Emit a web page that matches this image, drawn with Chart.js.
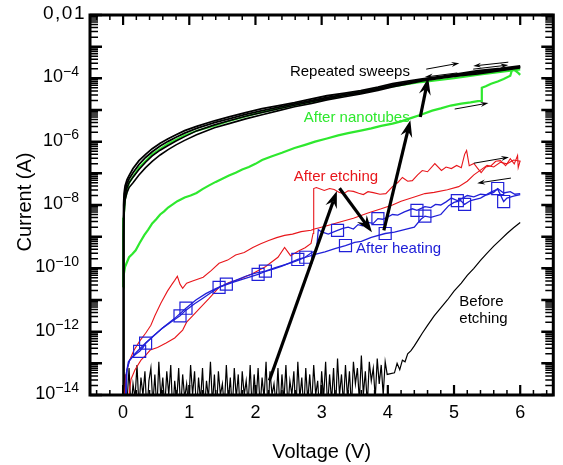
<!DOCTYPE html>
<html>
<head>
<meta charset="utf-8">
<script src="https://cdn.jsdelivr.net/npm/chart.js@4.4.0/dist/chart.umd.min.js"></script>
<style>
  body { margin: 0; background: #fff; }
  #wrap { width: 563px; height: 465px; }
</style>
</head>
<body>
<div id="wrap"><canvas id="c"></canvas></div>
<script>
// values are voltages (V) and log10 of current (A)
const xTicks = [0, 1, 2, 3, 4, 5, 6];
const xTickLabels = ["0", "1", "2", "3", "4", "5", "6"];
const yTickExp = [-14, -12, -10, -8, -6, -4, -2];
const yTickLabels = ["10^-14", "10^-12", "10^-10", "10^-8", "10^-6", "10^-4", "0,01"];

// repeated sweeps (black)
const sweepV = [0.00,0.005,0.01,0.015,0.03,0.06,0.09,0.15,0.24,0.34,0.44,0.56,0.68,0.80,0.93,1.11,1.38,1.60,1.85,2.10,2.35,2.59,2.85,3.08,3.35,3.59,3.85,4.07,4.30,4.52,4.86,5.10,5.36,5.70,6.00];
const sweep1 = [-14.5,-10.0,-8.0,-7.64,-7.4,-7.2,-7.07,-6.85,-6.6,-6.4,-6.22,-6.05,-5.91,-5.78,-5.65,-5.52,-5.34,-5.22,-5.08,-4.96,-4.86,-4.77,-4.65,-4.55,-4.47,-4.39,-4.28,-4.17,-4.09,-4.02,-3.92,-3.84,-3.76,-3.69,-3.61];
const sweep2 = [-14.5,-10.5,-8.5,-7.9,-7.55,-7.32,-7.18,-6.98,-6.72,-6.5,-6.32,-6.14,-5.99,-5.86,-5.73,-5.58,-5.40,-5.28,-5.14,-5.02,-4.91,-4.81,-4.70,-4.60,-4.51,-4.43,-4.32,-4.21,-4.13,-4.05,-3.95,-3.87,-3.80,-3.72,-3.63];
const sweep3 = [-14.5,-10.8,-8.7,-8.1,-7.7,-7.45,-7.3,-7.12,-6.88,-6.65,-6.45,-6.27,-6.12,-5.98,-5.84,-5.66,-5.47,-5.34,-5.20,-5.08,-4.96,-4.85,-4.74,-4.64,-4.54,-4.46,-4.35,-4.24,-4.15,-4.06,-3.96,-3.90,-3.83,-3.74,-3.65];
const sweep4 = [-14.5,-11.0,-9.0,-8.3,-7.85,-7.6,-7.45,-7.3,-7.05,-6.82,-6.62,-6.42,-6.25,-6.10,-5.96,-5.78,-5.56,-5.43,-5.28,-5.15,-5.02,-4.90,-4.79,-4.68,-4.58,-4.49,-4.38,-4.27,-4.18,-4.08,-3.98,-3.92,-3.86,-3.76,-3.67];

// after nanotubes (green)
const greenFwdV = [0.00,0.01,0.03,0.06,0.09,0.14,0.19,0.25,0.32,0.38,0.44,0.50,0.56,0.62,0.68,0.75,0.82,0.93,1.02,1.11,1.20,1.30,1.40,1.50,1.60,1.70,1.80,1.90,2.00,2.10,2.25,2.40,2.59,2.75,2.90,3.08,3.25,3.40,3.59,3.75,3.90,4.07,4.20,4.37,4.50,4.67,4.80,4.95,5.11,5.25,5.36,5.41,5.42,5.48,5.56,5.66,5.75,5.85,5.88,5.92,5.97,6.00];
const greenFwdE = [-10.6,-10.2,-9.95,-9.8,-9.65,-9.55,-9.43,-9.2,-8.95,-8.78,-8.58,-8.45,-8.3,-8.2,-8.08,-7.98,-7.88,-7.76,-7.7,-7.62,-7.5,-7.38,-7.27,-7.17,-7.07,-6.98,-6.88,-6.8,-6.7,-6.58,-6.46,-6.35,-6.2,-6.1,-6.0,-5.9,-5.8,-5.73,-5.65,-5.58,-5.5,-5.43,-5.36,-5.24,-5.15,-5.02,-4.95,-4.86,-4.80,-4.76,-4.72,-4.71,-4.30,-4.25,-4.17,-4.1,-4.02,-3.92,-3.70,-3.75,-3.83,-3.89];
const greenRevV = [6.00,5.70,5.40,5.00,4.50,4.00,3.50,3.00,2.50,2.00,1.60,1.38,1.11,0.93,0.68,0.44,0.24,0.09,0.03,0.01,0.00];
const greenRevE = [-3.72,-3.80,-3.88,-4.00,-4.12,-4.28,-4.47,-4.68,-4.88,-5.12,-5.35,-5.50,-5.66,-5.80,-6.06,-6.40,-6.82,-7.3,-7.8,-8.4,-10.6];

// after etching (red)
const redFwdV = [0.08,0.10,0.12,0.18,0.27,0.34,0.41,0.52,0.65,0.78,0.90,0.96,1.05,1.16,1.30,1.45,1.60,1.75,1.96,2.15,2.34,2.44,2.53,2.65,2.75,2.84,2.87,2.88,2.92,3.04,3.12,3.19,3.26,3.33,3.40,3.48,3.56,3.63,3.70,3.78,3.88,3.97,4.07,4.15,4.22,4.30,4.37,4.45,4.52,4.60,4.71,4.81,4.88,4.96,5.04,5.11,5.16,5.19,5.23,5.30,5.36,5.41,5.48,5.56,5.63,5.70,5.78,5.85,5.91,5.96,5.97,6.00];
const redFwdE = [-14.4,-13.8,-13.5,-13.2,-12.9,-12.75,-12.58,-12.5,-12.36,-12.2,-11.95,-11.7,-11.5,-11.26,-10.95,-10.6,-10.45,-10.35,-10.16,-9.95,-9.65,-9.34,-9.6,-9.45,-9.35,-9.21,-8.9,-7.48,-7.45,-7.54,-7.48,-7.51,-7.6,-7.64,-7.55,-7.57,-7.63,-7.67,-7.58,-7.61,-7.66,-7.64,-7.42,-7.29,-7.13,-7.25,-7.23,-7.05,-6.91,-6.95,-6.69,-6.91,-6.8,-6.85,-6.75,-6.82,-6.4,-6.28,-6.76,-6.69,-6.85,-6.98,-6.8,-6.76,-6.62,-6.6,-6.76,-6.54,-6.7,-6.44,-6.82,-6.60];
const redRevV = [6.00,5.90,5.80,5.70,5.60,5.50,5.40,5.30,5.20,5.07,4.90,4.70,4.56,4.40,4.20,4.07,3.90,3.70,3.48,3.25,3.04,2.89,2.84,2.69,2.56,2.44,2.32,2.20,2.08,1.96,1.83,1.70,1.58,1.45,1.33,1.21,1.05,0.96,0.90,0.86,0.82,0.78,0.74,0.67,0.57,0.48,0.42,0.34,0.25,0.16,0.09,0.04,0.01];
const redRevE = [-6.62,-6.58,-6.7,-6.65,-6.8,-6.75,-6.9,-7.05,-7.25,-7.42,-7.52,-7.6,-7.64,-7.75,-7.88,-8.0,-8.12,-8.25,-8.42,-8.55,-8.68,-8.76,-8.80,-8.84,-8.92,-8.96,-9.03,-9.12,-9.22,-9.34,-9.5,-9.58,-9.74,-9.84,-10.07,-10.28,-10.4,-10.47,-10.63,-10.5,-10.25,-10.38,-10.5,-10.72,-11.1,-11.5,-11.8,-12.05,-12.3,-12.6,-12.95,-13.4,-14.4];

// after heating (blue)
const blueUpV = [0.03,0.05,0.08,0.14,0.20,0.25,0.30,0.35,0.45,0.60,0.72,0.86,0.95,1.08,1.20,1.32,1.45,1.55,1.68,1.80,1.92,2.04,2.15,2.28,2.40,2.52,2.64,2.75,2.85,2.92,2.95,3.00,3.10,3.24,3.32,3.40,3.48,3.55,3.62,3.70,3.78,3.85,3.92,4.00,4.07,4.15,4.25,4.37,4.44,4.56,4.65,4.72,4.80,4.88,4.96,5.05,5.12,5.20,5.30,5.40,5.50,5.60,5.66,5.75,5.85,5.92,6.00];
const blueUpE = [-14.4,-13.3,-12.95,-12.8,-12.7,-12.62,-12.5,-12.35,-12.15,-11.88,-11.7,-11.5,-11.32,-11.12,-10.95,-10.78,-10.6,-10.52,-10.43,-10.35,-10.27,-10.19,-10.1,-10.02,-9.93,-9.83,-9.72,-9.65,-9.5,-9.45,-8.78,-8.85,-8.92,-8.80,-8.74,-8.7,-8.76,-8.62,-8.66,-8.55,-8.58,-8.43,-8.45,-8.38,-8.3,-8.32,-8.22,-8.12,-8.17,-8.05,-8.08,-7.98,-8.0,-7.9,-7.78,-7.86,-7.8,-7.7,-7.74,-7.66,-7.68,-7.6,-7.48,-7.62,-7.58,-7.66,-7.64];
const blueLowV = [0.04,0.06,0.10,0.20,0.34,0.45,0.60,0.78,0.95,1.10,1.25,1.40,1.56,1.70,1.85,2.00,2.15,2.30,2.45,2.60,2.76,2.90,3.05,3.20,3.36,3.50,3.60,3.75,3.96,4.10,4.25,4.40,4.50,4.56,4.65,4.80,4.92,5.00,5.10,5.16,5.25,5.40,5.55,5.66,5.75,5.80,5.90,6.00];
const blueLowE = [-14.4,-13.2,-12.9,-12.65,-12.36,-12.15,-11.88,-11.58,-11.26,-11.0,-10.8,-10.64,-10.5,-10.38,-10.25,-10.15,-10.09,-9.98,-9.88,-9.78,-9.65,-9.56,-9.48,-9.38,-9.28,-9.18,-9.15,-9.02,-8.90,-8.86,-8.78,-8.7,-8.45,-8.35,-8.39,-8.3,-8.02,-7.92,-7.86,-7.98,-7.86,-7.78,-7.6,-7.5,-7.89,-7.78,-7.72,-7.67];
const blueMarkV = [0.25,0.34,0.86,0.95,1.45,1.56,2.04,2.15,2.64,2.76,3.24,3.36,3.85,3.96,4.44,4.56,5.05,5.16,5.66,5.75];
const blueMarkE = [-12.62,-12.36,-11.5,-11.26,-10.6,-10.5,-10.19,-10.09,-9.72,-9.65,-8.80,-9.28,-8.43,-8.90,-8.17,-8.35,-7.86,-7.98,-7.48,-7.89];

// before etching (black): noise floor sampled every 0.03 V from 0 V, then the rise
const beforeNoiseStep = 0.03;
const beforeNoiseE = [
  -14.6,-13.35,-14.2,-13.15,-14.5,-13.65,-14.1,-13.05,-14.4,-13.45,
  -14.0,-13.25,-14.6,-13.55,-13.15,-14.3,-13.35,-14.5,-12.95,-14.1,
  -13.45,-14.4,-13.25,-14.0,-13.05,-14.6,-13.55,-14.2,-13.15,-14.5,
  -13.35,-14.1,-13.65,-14.4,-13.05,-14.0,-13.25,-14.6,-13.45,-14.2,
  -13.15,-14.5,-13.55,-14.1,-12.95,-14.3,-13.35,-14.6,-13.25,-14.0,
  -13.65,-14.4,-13.05,-14.2,-13.45,-14.5,-13.15,-14.1,-13.35,-14.6,
  -13.25,-14.0,-13.55,-14.3,-13.05,-14.5,-13.35,-14.2,-13.15,-14.4,
  -13.45,-14.1,-12.95,-14.6,-13.25,-14.0,-13.65,-14.3,-13.15,-14.5,
  -13.35,-14.2,-13.05,-14.4,-13.55,-14.0,-13.25,-14.6,-12.95,-14.1,
  -13.45,-14.5,-13.15,-14.2,-13.35,-14.3,-13.05,-14.0,-13.55,-14.6,
  -13.25,-14.1,-12.95,-14.4,-13.35,-14.2,-13.15,-14.5,-12.85,-14.0,
  -13.35,-14.3,-13.05,-14.1,-13.25,-14.4,-12.95,-13.65,-13.15,-14.2,
  -12.75,-14.0,-13.25,-14.3,-12.95,-13.55,-13.15,-14.1,-12.85,-13.65,
  -13.05,-14.0,-12.95,-13.35
];
const beforeRiseV = [4.10,4.14,4.18,4.22,4.26,4.30,4.35,4.40,4.46,4.52,4.60,4.70,4.80,4.90,5.00,5.11,5.20,5.30,5.40,5.50,5.60,5.70,5.80,5.90,6.00];
const beforeRiseE = [-13.3,-13.0,-13.2,-12.9,-12.95,-12.7,-12.6,-12.45,-12.25,-12.05,-11.8,-11.5,-11.25,-11.0,-10.72,-10.47,-10.22,-10.0,-9.75,-9.52,-9.3,-9.1,-8.9,-8.72,-8.55];

// annotations, in data units [V1, logI1, V2, logI2]
const bigArrows = [[2.21,-13.54,3.23,-7.56],[3.27,-7.47,3.76,-8.86],[3.94,-8.80,4.34,-5.32],[4.49,-5.22,4.61,-3.99]];
const smallArrows = [[4.58,-3.71,5.08,-3.52],[5.05,-3.83,4.56,-3.96],[5.82,-3.49,5.29,-3.61],[5.29,-3.71,5.82,-3.58],
                     [5.01,-4.97,5.52,-4.78],[5.30,-6.68,5.83,-6.49],[5.86,-7.15,5.35,-7.31]];
const notes = [
  { t: "Repeated sweeps", v: 2.52, e: -3.80, c: "#000" },
  { t: "After nanotubes", v: 2.73, e: -5.26, c: "#2ee82e" },
  { t: "After etching", v: 2.58, e: -7.12, c: "#e8161b" },
  { t: "After heating", v: 3.52, e: -9.37, c: "#2020d8" },
  { t: "Before", v: 5.08, e: -11.07, c: "#000" },
  { t: "etching", v: 5.08, e: -11.61, c: "#000" }
];

const BLACK = "#000", GREEN = "#2ee82e", RED = "#e8161b", BLUE = "#2020d8";
const FONT = '"Liberation Sans", Arial, sans-serif';

const toPts = (V, E) => V.map((v, i) => ({ x: v, y: Math.pow(10, E[i]) }));
const beforeV = beforeNoiseE.map((e, i) => +(i * beforeNoiseStep).toFixed(3)).concat(beforeRiseV);
const beforeE = beforeNoiseE.concat(beforeRiseE);

function line(V, E, color, w) {
  return { data: toPts(V, E), showLine: true, borderColor: color, borderWidth: w,
           pointRadius: 0, pointHoverRadius: 0, fill: false, tension: 0 };
}

function arrow(ctx, x1, y1, x2, y2, lw, len, wid) {
  const a = Math.atan2(y2 - y1, x2 - x1), c = Math.cos(a), s = Math.sin(a);
  const bx = x2 - c * len, by = y2 - s * len;
  const nx = x2 - c * len * 0.65, ny = y2 - s * len * 0.65;
  ctx.lineWidth = lw;
  ctx.beginPath(); ctx.moveTo(x1, y1); ctx.lineTo(nx, ny); ctx.stroke();
  ctx.beginPath();
  ctx.moveTo(x2, y2);
  ctx.lineTo(bx - s * wid / 2, by + c * wid / 2);
  ctx.lineTo(nx, ny);
  ctx.lineTo(bx + s * wid / 2, by - c * wid / 2);
  ctx.closePath(); ctx.fill();
}

const decor = {
  id: "decor",
  afterDatasetsDraw(chart) {
    const { ctx, chartArea: a, scales: { x, y } } = chart;
    const px = v => x.getPixelForValue(v);
    const py = e => y.getPixelForValue(Math.pow(10, e));
    ctx.save();
    ctx.strokeStyle = BLACK; ctx.fillStyle = BLACK; ctx.lineCap = "butt";

    // arrows
    bigArrows.forEach(r => arrow(ctx, px(r[0]), py(r[1]), px(r[2]), py(r[3]), 3.2, 17, 12));
    smallArrows.forEach(r => arrow(ctx, px(r[0]), py(r[1]), px(r[2]), py(r[3]), 1, 8, 5));

    // notes
    ctx.font = "15px " + FONT;
    ctx.textAlign = "left"; ctx.textBaseline = "middle";
    notes.forEach(n => { ctx.fillStyle = n.c; ctx.fillText(n.t, px(n.v), py(n.e)); });
    ctx.fillStyle = BLACK;

    // inward ticks, y (log)
    const lo = yTickExp[0], hi = yTickExp[yTickExp.length - 1];
    for (let d = lo; d <= hi; d++) {
      const p = py(d);
      ctx.lineWidth = 2.5;
      ctx.beginPath();
      ctx.moveTo(a.left, p); ctx.lineTo(a.left + 12, p);
      ctx.moveTo(a.right, p); ctx.lineTo(a.right - 12, p);
      ctx.stroke();
      if (d === hi) continue;
      ctx.lineWidth = 1.5;
      for (let m = 2; m <= 9; m++) {
        const q = py(d + Math.log10(m));
        ctx.beginPath();
        ctx.moveTo(a.left, q); ctx.lineTo(a.left + 8, q);
        ctx.moveTo(a.right, q); ctx.lineTo(a.right - 8, q);
        ctx.stroke();
      }
    }
    // inward ticks, x
    for (let k = -2; k <= 32; k++) {
      const v = k * 0.2;
      if (v <= x.min || v >= x.max) continue;
      const major = k % 5 === 0;
      const L = major ? 10 : 5;
      const p = px(v);
      ctx.lineWidth = major ? 2.2 : 1.5;
      ctx.beginPath();
      ctx.moveTo(p, a.bottom); ctx.lineTo(p, a.bottom - L);
      ctx.moveTo(p, a.top); ctx.lineTo(p, a.top + L);
      ctx.stroke();
    }
    // frame
    ctx.lineWidth = 3;
    ctx.strokeRect(a.left, a.top, a.right - a.left, a.bottom - a.top);

    // x tick labels
    ctx.font = "18px " + FONT;
    ctx.textAlign = "center"; ctx.textBaseline = "middle";
    xTicks.forEach((v, i) => ctx.fillText(xTickLabels[i], px(v), a.bottom + 18));

    // y tick labels with exponents
    ctx.textAlign = "right";
    yTickExp.forEach((e, i) => {
      const p = py(e);
      const lab = yTickLabels[i];
      if (lab.indexOf("^") >= 0) {
        const parts = lab.split("^");
        const sup = parts[1].replace("-", "\u2212");
        ctx.font = "14px " + FONT;
        const sw = ctx.measureText(sup).width;
        ctx.fillText(sup, a.left - 11, p - 6.5);
        ctx.font = "18px " + FONT;
        ctx.fillText(parts[0], a.left - 11 - sw, p - 1);
      } else {
        ctx.font = "19px " + FONT;
        ctx.letterSpacing = "1.5px";
        ctx.fillText(lab, a.left - 4, p - 1);
        ctx.letterSpacing = "0px";
      }
    });

    // axis titles
    ctx.font = "20px " + FONT;
    ctx.textAlign = "center";
    ctx.fillText("Voltage (V)", (a.left + a.right) / 2, 452);
    ctx.translate(25, (a.top + a.bottom) / 2 - 3);
    ctx.rotate(-Math.PI / 2);
    ctx.fillText("Current (A)", 0, 0);
    ctx.restore();
  }
};

new Chart(document.getElementById("c"), {
  type: "scatter",
  data: {
    datasets: [
      { data: toPts(blueMarkV, blueMarkE), showLine: false, pointStyle: "rect", pointRadius: 8.5,
        pointHoverRadius: 8.5, borderColor: BLUE, backgroundColor: "rgba(0,0,0,0)", borderWidth: 1.2 },
      line(blueUpV, blueUpE, BLUE, 1.3),
      line(blueLowV, blueLowE, BLUE, 1.3),
      line(redFwdV, redFwdE, RED, 1.1),
      line(redRevV, redRevE, RED, 1.1),
      line(sweepV, sweep1, BLACK, 1.8),
      line(sweepV, sweep2, BLACK, 1.8),
      line(sweepV, sweep3, BLACK, 1.6),
      line(sweepV, sweep4, BLACK, 1.6),
      line(greenRevV, greenRevE, GREEN, 2),
      line(greenFwdV, greenFwdE, GREEN, 2.2),
      line(beforeV, beforeE, BLACK, 1.2)
    ]
  },
  options: {
    responsive: true,
    maintainAspectRatio: false,
    animation: false,
    events: [],
    layout: { padding: { top: 15, right: 0, left: 0, bottom: 0 } },
    plugins: { legend: { display: false }, tooltip: { enabled: false } },
    scales: {
      x: {
        type: "linear", min: -0.5, max: 6.5,
        grid: { display: false }, border: { display: false }, ticks: { display: false },
        afterFit: s => { s.height = 70; }
      },
      y: {
        type: "logarithmic", min: 1e-14, max: 1e-2,
        grid: { display: false }, border: { display: false }, ticks: { display: false },
        afterFit: s => { s.width = 90; }
      }
    }
  },
  plugins: [decor]
});
</script>
</body>
</html>
